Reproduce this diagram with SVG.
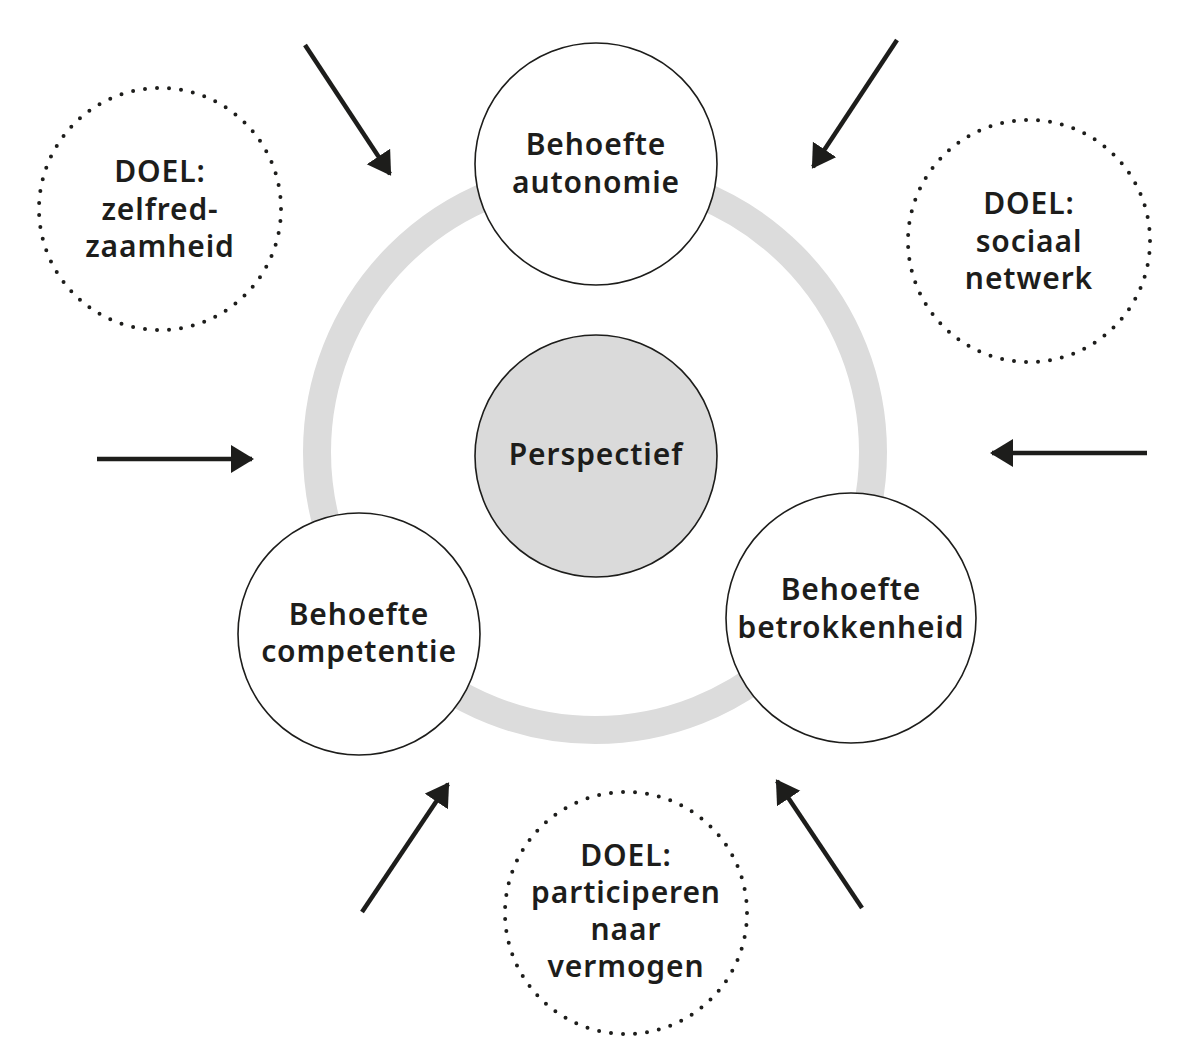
<svg xmlns="http://www.w3.org/2000/svg" width="1185" height="1044" viewBox="0 0 1185 1044">
<style>
.node{fill:#fff;stroke:#1d1d1b;stroke-width:1.6}
.center{fill:#dadada;stroke:#1d1d1b;stroke-width:1.6}
.dot{fill:none;stroke:#1d1d1b;stroke-width:4;stroke-linecap:round;stroke-dasharray:0 1}
.ring{fill:none;stroke:#dcdcdc;stroke-width:28}
.t{font-family:"Noto Sans","Liberation Sans",sans-serif;font-weight:600;font-size:30px;letter-spacing:0.9px;fill:#1d1d1b;text-anchor:middle}
.arrow{stroke:#1d1d1b;stroke-width:4.5;fill:none}
</style>
<defs>
<marker id="ah" markerUnits="userSpaceOnUse" markerWidth="26" markerHeight="30" refX="21" refY="14" orient="auto">
<path d="M0,0 L23,14 L0,28 Z" fill="#1d1d1b"/>
</marker>
</defs>
<rect width="1185" height="1044" fill="#fff"/>
<circle class="ring" cx="595" cy="452" r="278"/>
<g id="connectors">
<line class="arrow" x1="305" y1="45" x2="390" y2="174" marker-end="url(#ah)"/>
<line class="arrow" x1="897" y1="40" x2="813" y2="167" marker-end="url(#ah)"/>
<line class="arrow" x1="97" y1="459" x2="252" y2="459" marker-end="url(#ah)"/>
<line class="arrow" x1="1147" y1="453" x2="992" y2="453" marker-end="url(#ah)"/>
<line class="arrow" x1="362" y1="912" x2="448" y2="784" marker-end="url(#ah)"/>
<line class="arrow" x1="862" y1="908" x2="777" y2="781" marker-end="url(#ah)"/>
</g>
<g id="autonomie">
<circle class="node" cx="596" cy="164" r="121"/>
<text class="t" x="596" y="155">Behoefte</text>
<text class="t" x="596" y="193">autonomie</text>
</g>
<g id="perspectief">
<circle class="center" cx="596" cy="456" r="121"/>
<text class="t" x="596" y="465">Perspectief</text>
</g>
<g id="competentie">
<circle class="node" cx="359" cy="634" r="121"/>
<text class="t" x="359" y="625">Behoefte</text>
<text class="t" x="359" y="662">competentie</text>
</g>
<g id="betrokkenheid">
<circle class="node" cx="851" cy="618" r="125"/>
<text class="t" x="851" y="600">Behoefte</text>
<text class="t" x="851" y="638">betrokkenheid</text>
</g>
<g id="doel-zelfredzaamheid">
<circle class="dot" cx="160" cy="209" r="121" pathLength="63"/>
<text class="t" x="160" y="182">DOEL:</text>
<text class="t" x="160" y="220">zelfred-</text>
<text class="t" x="160" y="257">zaamheid</text>
</g>
<g id="doel-sociaal">
<circle class="dot" cx="1029" cy="241" r="121" pathLength="63"/>
<text class="t" x="1029" y="214">DOEL:</text>
<text class="t" x="1029" y="252">sociaal</text>
<text class="t" x="1029" y="289">netwerk</text>
</g>
<g id="doel-participeren">
<circle class="dot" cx="626" cy="913" r="121" pathLength="63"/>
<text class="t" x="626" y="866">DOEL:</text>
<text class="t" x="626" y="903">participeren</text>
<text class="t" x="626" y="940">naar</text>
<text class="t" x="626" y="977">vermogen</text>
</g>
</svg>
